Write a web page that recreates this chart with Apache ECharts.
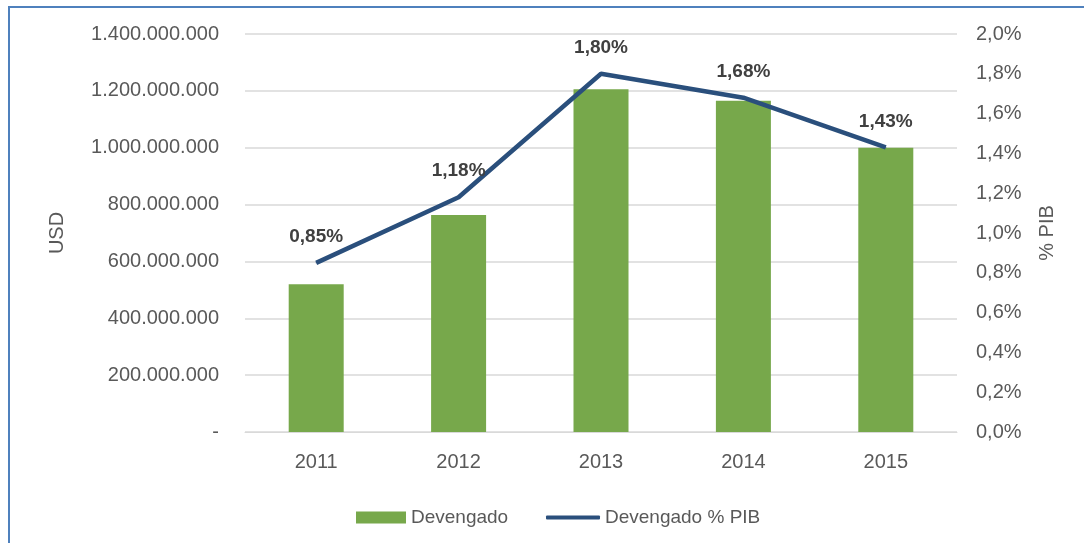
<!DOCTYPE html>
<html>
<head>
<meta charset="utf-8">
<script src="https://cdn.jsdelivr.net/npm/echarts@6/dist/echarts.min.js"></script>
<style>
  html, body { margin: 0; padding: 0; background: #fff; }
  #frame {
    position: absolute; left: 8px; top: 6px; width: 1076px; height: 537px;
    border-left: 2px solid #4F81BD; border-top: 2px solid #4F81BD;
    box-sizing: border-box;
  }
  #chart { position: absolute; left: 0; top: 0; width: 1084px; height: 543px; }
</style>
</head>
<body>
<div id="frame"></div>
<div id="chart"></div>
<script>
// datos
const years = ["2011", "2012", "2013", "2014", "2015"];
const devengado = [520000000, 763000000, 1206000000, 1165000000, 1000000000];
const devengadoPib = [0.85, 1.18, 1.80, 1.68, 1.43];

const fontFamily = "'Liberation Sans', Arial, sans-serif";
const axisColor = "#595959";
const fs = 20;

// 1234567890 -> 1.234.567.890 ; 0 -> "-"
function fmtUsd(v) {
  if (v === 0) return "-";
  return String(v).replace(/\B(?=(\d{3})+(?!\d))/g, ".");
}

const chart = echarts.init(document.getElementById("chart"));
chart.setOption({
  backgroundColor: "transparent",
  textStyle: { fontFamily: fontFamily },
  grid: { left: 245, right: 127, top: 34, bottom: 111, containLabel: false },
  legend: [
    {
      left: 351,
      top: 503,
      itemWidth: 50,
      itemHeight: 12,
      textStyle: { color: axisColor, fontSize: 19, fontFamily: fontFamily },
      data: [{ name: "Devengado", icon: "rect" }]
    },
    {
      left: 541,
      top: 503,
      itemWidth: 54,
      itemHeight: 4,
      textStyle: { color: axisColor, fontSize: 19, fontFamily: fontFamily },
      data: [{ name: "Devengado % PIB", icon: "roundRect" }]
    }
  ],
  xAxis: {
    type: "category",
    data: years,
    axisLine: { show: true, lineStyle: { color: "#D9D9D9", width: 1 } },
    axisTick: { show: false },
    axisLabel: { color: axisColor, fontSize: fs, margin: 20 }
  },
  yAxis: [
    {
      type: "value",
      min: 0,
      max: 1400000000,
      interval: 200000000,
      name: "USD",
      nameLocation: "middle",
      nameRotate: 90,
      nameGap: 178,
      nameTextStyle: { color: axisColor, fontSize: fs },
      axisLine: { show: false },
      axisTick: { show: false },
      axisLabel: { color: axisColor, fontSize: fs, margin: 26, formatter: fmtUsd },
      splitLine: { lineStyle: { color: "#D9D9D9", width: 1.5 } }
    },
    {
      type: "value",
      min: 0,
      max: 2.0,
      interval: 0.2,
      position: "right",
      name: "% PIB",
      nameLocation: "middle",
      nameRotate: 90,
      nameGap: 80,
      nameTextStyle: { color: axisColor, fontSize: fs },
      axisLine: { show: false },
      axisTick: { show: false },
      axisLabel: {
        color: axisColor,
        fontSize: fs,
        margin: 19,
        formatter: v => v.toFixed(1).replace(".", ",") + "%"
      },
      splitLine: { show: false }
    }
  ],
  series: [
    {
      name: "Devengado",
      type: "bar",
      data: devengado,
      barWidth: 55,
      itemStyle: { color: "#77A84B" },
      z: 2
    },
    {
      name: "Devengado % PIB",
      type: "line",
      yAxisIndex: 1,
      data: devengadoPib,
      symbol: "circle",
      symbolSize: 1,
      lineStyle: { color: "#2A4F7C", width: 4.5 },
      itemStyle: { color: "#2A4F7C" },
      z: 3,
      label: {
        show: true,
        position: "top",
        distance: 16,
        color: "#404040",
        fontWeight: "bold",
        fontSize: 19,
        formatter: p => p.value.toFixed(2).replace(".", ",") + "%"
      }
    }
  ]
});
</script>
</body>
</html>
